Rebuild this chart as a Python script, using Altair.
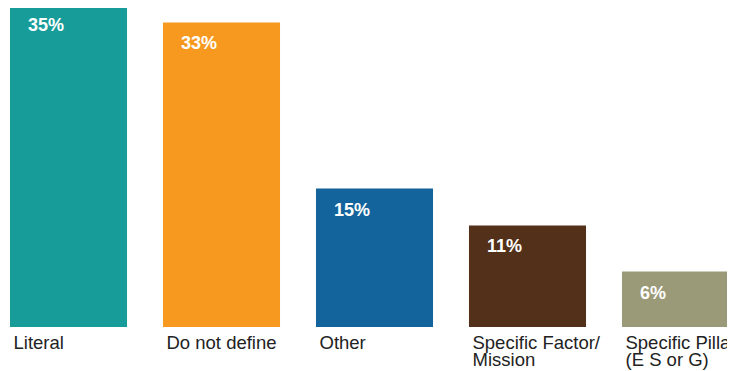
import altair as alt
import pandas as pd

categories = ["Literal", "Do not define", "Other", "Specific Factor/\nMission", "Specific Pillar\n(E S or G)"]
values = [35, 33, 15, 11, 6]
labels = ["35%", "33%", "15%", "11%", "6%"]
colors = ["#179c99", "#f7991f", "#13649c", "#533019", "#9b9a78"]

df = pd.DataFrame({"cat": categories, "pct": values, "label": labels, "color": colors})

FONT = "Liberation Sans, Arial, Helvetica, sans-serif"

x = alt.X(
    "cat:N",
    sort=categories,
    scale=alt.Scale(paddingInner=0.235, paddingOuter=0.013, range=[0, 733]),
    axis=alt.Axis(
        title=None, domain=False, ticks=False, tickSize=0, labelAngle=0,
        labelAlign="left", labelBaseline="alphabetic", labelOffset=-55,
        labelPadding=21, labelFontSize=18.5, labelFont=FONT, labelColor="#222222",
        labelLineHeight=17, labelExpr="split(datum.label, '\\n')", labelLimit=400,
        labelOverlap=False, labelBound=False, labelFlush=False,
    ),
)
y = alt.Y("pct:Q", scale=alt.Scale(domain=[0, 34.56], nice=False, zero=True), axis=None)

bars = alt.Chart(df).mark_bar(clip=False).encode(
    x=x, y=y, color=alt.Color("color:N", scale=None, legend=None)
)
text = alt.Chart(df).mark_text(
    align="left", baseline="alphabetic", dx=18, dy=27, font=FONT,
    fontSize=18, fontWeight="bold", color="white",
).encode(
    x=alt.X("cat:N", sort=categories, bandPosition=0),
    y=y,
    text="label:N",
)

chart = (
    alt.layer(bars, text)
    .properties(
        width=719, height=319,
        padding={"left": 0, "top": 0, "right": 0, "bottom": 52},
        autosize=alt.AutoSizeParams(type="none"),
        background="white",
    )
    .configure_view(stroke=None)
)

chart.save("out.html", embed_options={"renderer": "svg", "actions": False})
